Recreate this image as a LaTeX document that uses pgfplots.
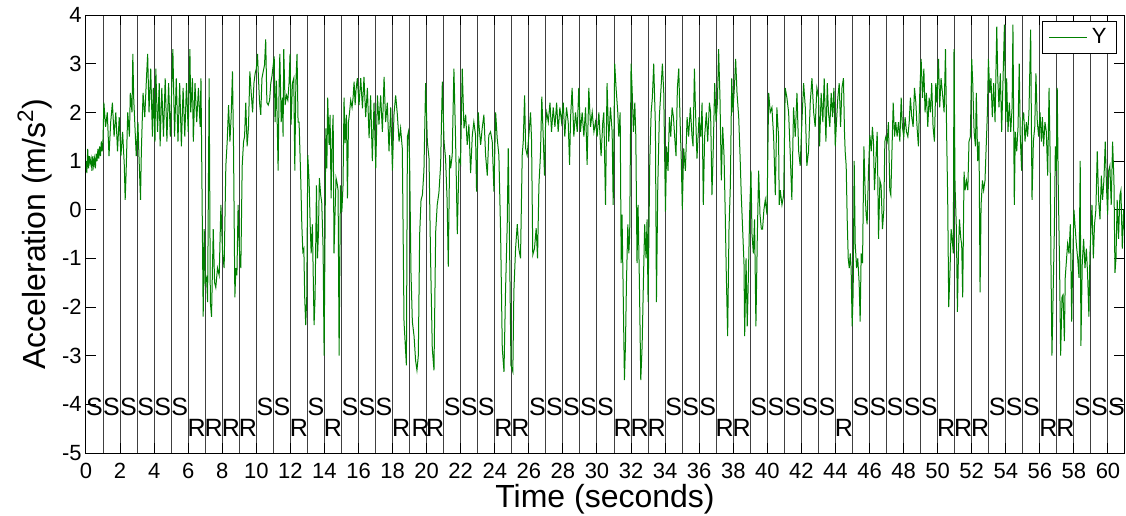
\documentclass[border=0pt]{standalone}
\usepackage{pgfplots}
\pgfplotsset{compat=1.18}
\usepackage{fontspec}
\setmainfont{Liberation Sans}
\definecolor{mgreen}{rgb}{0,0.5,0}
\begin{document}
\begin{tikzpicture}
\path[use as bounding box] (-43pt,-31pt) rectangle (520pt,226.5pt);
\begin{axis}[
 at={(0,0)}, anchor=south west,
 scale only axis, width=519pt, height=219pt,
 xmin=0, xmax=60.94, ymin=-5, ymax=4,
 xtick={0,2,...,60}, ytick={-5,-4,...,4},
 minor xtick={1,3,...,59},
 xmajorgrids, xminorgrids,
 major grid style={black!75, line width=0.5pt},
 minor grid style={black!75, line width=0.5pt},
 tick align=inside, major tick length=5pt, minor tick length=0pt,
 tick style={black, line width=0.5pt},
 axis line style={black, line width=0.5pt},
 /pgf/number format/assume math mode=true,
 ticklabel style={font=\fontsize{11}{13}\selectfont},
 xticklabel style={anchor=base, yshift=-12.5pt, inner sep=0pt},
 yticklabel style={anchor=east, inner sep=0pt, xshift=-2pt},
 xlabel={Time (seconds)},
 ylabel={Acceleration (m/s\textsuperscript{2})},
 label style={font=\fontsize{16}{18}\selectfont},
 xlabel style={at={(axis description cs:0.5,0)}, anchor=base, yshift=-27.3pt, inner sep=0pt},
 ylabel style={at={(axis description cs:0,0.5)}, anchor=center, rotate=0, yshift=25.5pt},
 legend style={at={(1,1)}, anchor=north east, xshift=-3.5pt, yshift=-3pt,
   draw=black, line width=0.5pt, font=\fontsize{11}{13}\selectfont,
   inner xsep=3pt, inner ysep=1.5pt},
 legend image code/.code={\draw[#1, line width=0.5pt] (0pt,0pt) -- (19pt,0pt);},
]
\addplot[mgreen, line width=0.5pt, mark=none] table {
0.00 1.00
0.05 0.75
0.10 1.25
0.15 0.85
0.20 1.10
0.25 0.95
0.30 1.05
0.35 0.80
0.40 1.10
0.45 0.90
0.50 1.05
0.55 0.85
0.60 1.15
0.65 1.00
0.70 1.25
0.75 1.05
0.80 1.30
0.85 1.10
0.90 1.40
0.95 1.20
1.00 1.45
1.05 2.20
1.15 1.70
1.25 2.00
1.35 1.10
1.45 1.80
1.55 2.20
1.65 1.50
1.75 2.00
1.85 1.20
1.95 1.90
2.05 1.10
2.15 1.60
2.25 0.90
2.30 0.20
2.35 0.70
2.45 2.00
2.55 1.50
2.60 2.40
2.70 2.00
2.75 3.20
2.80 2.30
2.90 1.50
2.95 1.10
3.05 1.80
3.10 1.20
3.20 0.20
3.25 1.20
3.35 2.40
3.45 1.90
3.55 2.70
3.62 3.20
3.70 2.00
3.80 2.90
3.90 1.50
3.95 2.50
4.05 1.40
4.10 2.90
4.20 1.60
4.30 2.60
4.35 1.30
4.45 2.50
4.55 1.50
4.65 2.70
4.75 1.40
4.85 2.60
4.95 1.50
5.10 3.30
5.20 1.50
5.30 2.70
5.40 1.40
5.50 2.60
5.60 1.30
5.70 2.50
5.80 1.50
5.90 2.60
6.00 1.60
6.10 3.30
6.15 2.00
6.25 2.70
6.30 1.40
6.40 2.60
6.50 1.80
6.60 2.50
6.70 1.70
6.75 2.70
6.88 -2.20
6.94 -0.40
7.00 -1.50
7.08 -1.40
7.14 -1.90
7.23 2.70
7.30 -1.90
7.37 -2.20
7.47 -0.40
7.55 -1.50
7.62 -1.60
7.72 -1.20
7.82 -1.35
7.92 0.10
8.02 -0.90
8.11 -1.20
8.21 0.90
8.29 1.40
8.37 2.15
8.45 1.40
8.52 1.90
8.60 2.84
8.66 1.30
8.74 -1.80
8.80 -1.20
8.86 -1.35
8.93 0.10
9.00 -0.80
9.09 -1.20
9.17 0.90
9.25 1.40
9.31 1.50
9.38 2.20
9.46 1.30
9.54 1.70
9.62 2.84
9.70 2.40
9.78 2.00
9.86 2.60
9.93 2.80
10.00 2.90
10.07 3.20
10.12 2.75
10.19 2.20
10.26 1.95
10.33 2.70
10.41 2.85
10.48 2.97
10.55 3.50
10.62 2.20
10.70 2.15
10.78 2.25
10.85 2.60
10.92 2.75
11.05 3.15
11.10 1.80
11.18 2.65
11.28 0.80
11.34 2.60
11.38 3.20
11.46 1.80
11.53 2.30
11.57 1.50
11.61 3.30
11.69 2.15
11.77 2.35
11.85 2.25
11.92 2.60
11.98 3.20
12.04 1.75
12.12 2.60
12.20 2.70
12.26 0.80
12.32 2.60
12.39 3.20
12.45 1.80
12.51 1.80
12.61 0.60
12.67 -0.30
12.73 -0.86
12.79 -0.80
12.84 -1.80
12.90 -2.37
12.96 -1.80
13.02 1.12
13.10 0.58
13.16 -0.30
13.22 -0.90
13.29 -0.30
13.39 -2.37
13.45 -1.80
13.53 0.50
13.59 -1.00
13.65 -0.45
13.70 0.65
13.78 0.30
13.84 0.15
13.92 -0.80
13.98 -3.00
14.08 1.67
14.14 0.85
14.19 2.30
14.27 1.33
14.33 1.95
14.39 0.23
14.45 1.40
14.51 1.95
14.56 -0.90
14.62 -0.10
14.68 0.65
14.74 0.55
14.80 0.40
14.86 -3.00
14.94 0.50
15.02 -0.05
15.09 0.50
15.15 2.30
15.21 1.37
15.29 1.95
15.35 0.23
15.41 1.80
15.46 1.95
15.54 2.25
15.62 2.10
15.68 2.30
15.74 2.63
15.80 2.15
15.85 2.45
15.93 2.70
16.03 2.15
16.13 2.70
16.23 2.08
16.32 2.73
16.42 1.90
16.52 2.50
16.62 1.47
16.71 2.35
16.81 1.00
16.91 2.20
17.01 0.85
17.11 2.35
17.20 1.75
17.30 2.35
17.40 1.60
17.50 2.73
17.59 1.80
17.69 2.20
17.79 1.20
17.89 2.10
17.99 0.80
18.08 1.95
18.18 2.35
18.28 1.95
18.38 1.40
18.47 1.67
18.57 1.26
18.67 -2.30
18.81 -3.20
18.87 1.50
18.93 1.60
19.00 1.00
19.08 -1.30
19.16 -2.30
19.26 -2.60
19.35 -3.10
19.43 -3.30
19.51 -3.00
19.59 -0.50
19.67 0.20
19.75 0.30
19.84 0.80
19.94 2.60
20.04 1.40
20.14 1.05
20.23 -1.00
20.33 -2.85
20.43 -3.30
20.53 -0.45
20.62 0.10
20.72 0.35
20.82 0.92
20.92 2.63
21.02 1.40
21.11 1.05
21.20 0.20
21.27 -1.17
21.35 1.12
21.41 0.85
21.50 1.12
21.60 2.90
21.70 1.40
21.80 -0.50
21.90 1.05
21.99 0.95
22.09 2.90
22.19 1.67
22.29 1.95
22.38 1.33
22.48 1.75
22.58 0.75
22.68 1.53
22.77 1.80
22.87 1.53
22.93 0.37
23.03 2.00
23.07 1.75
23.17 1.33
23.26 1.67
23.36 1.95
23.46 1.12
23.56 0.70
23.65 1.53
23.75 1.60
23.85 1.40
23.95 0.37
24.05 2.00
24.14 1.47
24.24 1.12
24.34 -0.45
24.44 -2.85
24.54 -3.33
24.63 -1.68
24.73 -0.30
24.79 1.26
24.87 -0.80
24.95 -3.20
25.06 -3.33
25.12 -1.68
25.22 -0.80
25.32 -0.30
25.41 -0.80
25.51 -1.00
25.61 1.12
25.67 1.40
25.75 2.35
25.81 1.26
25.90 1.12
26.00 1.53
26.10 2.00
26.16 1.40
26.23 -0.93
26.33 -0.80
26.43 -0.38
26.51 -1.00
26.59 0.50
26.68 1.12
26.76 2.32
26.84 1.53
26.92 0.70
26.98 1.75
27.05 2.00
27.14 1.80
27.24 2.20
27.33 1.60
27.43 2.10
27.53 1.70
27.63 2.20
27.72 1.60
27.82 2.10
27.92 1.80
28.02 2.20
28.11 1.50
28.21 2.10
28.31 1.80
28.39 0.92
28.45 1.90
28.54 2.50
28.64 1.50
28.74 2.00
28.84 1.60
28.93 2.50
29.03 1.60
29.13 2.00
29.23 1.50
29.33 2.10
29.42 0.92
29.52 2.50
29.62 1.70
29.72 2.00
29.82 1.60
29.91 1.80
30.01 1.50
30.11 2.00
30.24 1.10
30.34 1.80
30.40 2.00
30.50 0.10
30.59 2.60
30.69 1.40
30.79 2.10
30.89 1.60
30.95 0.10
31.04 3.00
31.12 2.50
31.22 2.00
31.28 1.50
31.36 2.00
31.42 -1.10
31.47 -0.10
31.53 -1.50
31.61 -3.50
31.67 -2.80
31.73 -1.50
31.81 -0.30
31.87 -0.90
31.92 -0.50
32.00 3.00
32.06 2.50
32.14 1.60
32.22 2.20
32.28 1.50
32.35 -1.10
32.41 0.10
32.49 -1.50
32.57 -3.50
32.65 -2.80
32.73 -1.40
32.80 -0.30
32.88 -1.00
32.94 -0.20
33.00 -1.90
33.10 1.00
33.18 2.00
33.25 2.30
33.33 3.00
33.43 1.70
33.49 -1.90
33.57 0.50
33.66 1.90
33.76 2.50
33.84 3.00
33.92 2.40
34.02 -0.04
34.09 1.30
34.17 0.80
34.25 1.90
34.33 1.50
34.41 2.10
34.49 1.90
34.56 1.50
34.64 1.10
34.72 2.50
34.80 2.90
34.88 1.80
34.95 1.00
35.01 0.00
35.09 1.26
35.19 0.80
35.29 1.90
35.38 1.50
35.48 2.10
35.58 1.50
35.64 1.30
35.72 2.90
35.77 2.20
35.87 1.05
35.99 1.90
36.09 1.50
36.17 2.20
36.24 0.10
36.32 1.50
36.42 2.00
36.50 1.40
36.60 2.20
36.67 2.00
36.75 0.30
36.83 1.30
36.91 2.60
36.99 1.80
37.07 2.20
37.14 3.30
37.22 2.30
37.30 0.60
37.38 1.70
37.46 1.10
37.53 -0.10
37.59 -1.30
37.67 -2.60
37.75 -0.40
37.83 0.50
37.91 2.70
37.98 2.00
38.08 2.60
38.14 3.10
38.22 2.40
38.32 1.90
38.40 1.10
38.47 0.30
38.55 -0.40
38.63 -1.10
38.67 -2.60
38.75 -1.00
38.82 -2.40
38.90 -1.20
38.96 -0.10
39.04 0.80
39.10 -0.50
39.18 -0.90
39.25 -0.20
39.33 -2.40
39.41 -0.60
39.49 0.80
39.57 -0.10
39.65 -0.40
39.72 -0.40
39.80 0.00
39.88 0.20
39.98 -0.10
40.08 2.40
40.17 2.00
40.27 2.10
40.37 1.50
40.47 0.30
40.56 2.10
40.66 1.50
40.70 0.10
40.76 0.40
40.86 0.10
40.96 0.30
41.05 2.50
41.15 2.30
41.25 2.00
41.35 1.10
41.44 0.20
41.54 2.10
41.64 1.50
41.74 2.40
41.84 1.20
41.93 0.90
42.03 1.80
42.13 2.60
42.23 2.10
42.32 0.90
42.42 1.20
42.52 2.20
42.62 2.70
42.72 2.00
42.81 1.70
42.91 2.50
43.01 2.30
43.07 1.30
43.16 2.40
43.26 1.80
43.34 2.70
43.44 1.40
43.52 2.60
43.59 2.00
43.67 1.70
43.75 2.40
43.83 1.90
43.91 2.50
43.99 1.30
44.06 1.80
44.14 2.30
44.22 2.60
44.30 1.70
44.38 2.50
44.47 2.70
44.53 1.60
44.57 1.20
44.63 0.90
44.69 -0.20
44.75 -1.00
44.81 -1.20
44.87 -0.90
44.92 -1.20
44.98 -2.40
45.04 -1.70
45.10 1.00
45.16 -0.70
45.24 -1.20
45.31 -1.00
45.39 -1.50
45.45 -2.30
45.51 -0.90
45.59 -1.10
45.67 1.30
45.75 0.30
45.80 -0.10
45.86 -0.30
45.94 0.80
46.02 1.53
46.10 1.20
46.17 1.70
46.23 1.40
46.29 0.40
46.37 1.00
46.45 1.60
46.53 -0.60
46.61 0.60
46.68 0.50
46.76 -0.40
46.84 0.00
46.90 1.40
46.96 1.50
47.04 1.40
47.11 1.80
47.19 0.40
47.25 0.30
47.31 1.10
47.39 2.20
47.47 1.50
47.54 1.80
47.62 1.50
47.70 1.80
47.78 1.40
47.86 2.30
47.93 1.70
48.01 1.50
48.09 1.90
48.17 1.60
48.25 1.50
48.33 1.80
48.40 2.30
48.48 1.90
48.56 1.70
48.64 2.50
48.72 2.20
48.79 1.70
48.87 1.30
48.95 2.40
49.03 3.10
49.11 2.30
49.19 2.90
49.26 2.00
49.34 2.40
49.42 1.70
49.50 2.30
49.58 2.00
49.65 2.60
49.73 1.70
49.81 1.40
49.89 2.60
49.95 2.20
50.05 3.10
50.12 2.10
50.20 2.70
50.28 2.40
50.38 2.00
50.46 3.30
50.53 1.50
50.59 0.20
50.65 -2.00
50.73 -1.20
50.79 -0.40
50.85 -0.60
50.92 -0.90
50.96 3.30
51.02 0.50
51.10 -0.40
51.16 -2.10
51.22 -0.90
51.28 -0.20
51.36 -0.60
51.41 -0.70
51.47 -1.80
51.55 0.78
51.61 0.40
51.69 0.60
51.77 0.40
51.84 1.40
51.92 1.50
52.00 3.10
52.06 2.60
52.14 1.60
52.22 1.30
52.27 2.40
52.35 1.00
52.43 1.40
52.49 -1.70
52.55 0.10
52.63 0.60
52.70 0.40
52.78 0.60
52.86 1.40
52.92 2.00
52.98 3.10
53.06 2.40
53.13 2.70
53.21 1.90
53.29 2.60
53.37 1.80
53.47 3.76
53.53 2.70
53.60 2.10
53.68 2.80
53.76 1.60
53.84 2.70
53.92 3.80
54.00 1.80
54.05 2.70
54.13 1.60
54.21 2.20
54.29 1.60
54.37 2.10
54.42 3.80
54.50 0.10
54.56 1.60
54.64 1.20
54.72 1.70
54.79 3.00
54.85 1.50
54.93 0.80
54.97 1.80
55.05 2.00
55.13 1.40
55.21 1.80
55.28 1.50
55.36 2.00
55.46 3.70
55.54 0.20
55.62 1.40
55.70 1.70
55.77 2.80
55.85 1.80
55.93 1.50
56.01 2.00
56.09 1.40
56.15 1.90
56.22 1.30
56.30 1.80
56.38 1.60
56.46 0.70
56.54 2.50
56.60 1.20
56.65 -1.00
56.71 -3.00
56.77 -1.90
56.85 -0.45
56.91 1.30
56.97 0.80
57.02 2.50
57.08 0.50
57.16 -1.20
57.22 -3.00
57.30 -1.80
57.36 -1.75
57.44 -2.70
57.49 -1.40
57.57 -1.00
57.63 -0.70
57.71 -0.90
57.79 -0.30
57.87 -2.30
57.92 -1.20
58.00 0.00
58.06 -0.30
58.14 -0.70
58.22 -1.00
58.30 -1.40
58.37 1.00
58.41 -2.80
58.49 -1.10
58.57 -0.60
58.65 -1.20
58.73 -0.80
58.80 -1.30
58.88 -2.20
58.94 -0.90
59.00 -0.40
59.06 0.10
59.14 -1.00
59.21 -0.30
59.29 0.00
59.37 1.20
59.45 0.20
59.53 -0.20
59.61 0.70
59.68 0.20
59.76 0.60
59.84 1.40
59.92 0.40
59.98 -0.10
60.04 0.80
60.11 0.90
60.19 0.10
60.27 1.40
60.35 0.60
60.41 -1.30
60.47 -1.00
60.54 0.20
60.62 -0.60
60.70 0.30
60.76 0.40
60.84 -0.80
60.92 0.00
60.99 -0.60
};
\addlegendentry{Y}
\addplot[forget plot, draw=none, mark=none, nodes near coords={S},
  every node near coord/.append style={anchor=center, inner sep=0pt, font=\fontsize{12.5}{14}\selectfont}]
  coordinates {(0.5,-4.05) (1.5,-4.05) (2.5,-4.05) (3.5,-4.05) (4.5,-4.05) (5.5,-4.05)
  (10.5,-4.05) (11.5,-4.05) (13.5,-4.05) (15.5,-4.05) (16.5,-4.05) (17.5,-4.05)
  (21.5,-4.05) (22.5,-4.05) (23.5,-4.05) (26.5,-4.05) (27.5,-4.05) (28.5,-4.05) (29.5,-4.05) (30.5,-4.05)
  (34.5,-4.05) (35.5,-4.05) (36.5,-4.05) (39.5,-4.05) (40.5,-4.05) (41.5,-4.05) (42.5,-4.05) (43.5,-4.05)
  (45.5,-4.05) (46.5,-4.05) (47.5,-4.05) (48.5,-4.05) (49.5,-4.05)
  (53.5,-4.05) (54.5,-4.05) (55.5,-4.05) (58.5,-4.05) (59.5,-4.05) (60.5,-4.05)};
\addplot[forget plot, draw=none, mark=none, nodes near coords={R},
  every node near coord/.append style={anchor=center, inner sep=0pt, font=\fontsize{12.5}{14}\selectfont}]
  coordinates {(6.5,-4.48) (7.5,-4.48) (8.5,-4.48) (9.5,-4.48) (12.5,-4.48) (14.5,-4.48)
  (18.5,-4.48) (19.65,-4.48) (20.5,-4.48) (24.5,-4.48) (25.5,-4.48)
  (31.5,-4.48) (32.5,-4.48) (33.5,-4.48) (37.5,-4.48) (38.5,-4.48) (44.5,-4.48)
  (50.5,-4.48) (51.5,-4.48) (52.5,-4.48) (56.5,-4.48) (57.5,-4.48)};
\end{axis}
\end{tikzpicture}
\end{document}
